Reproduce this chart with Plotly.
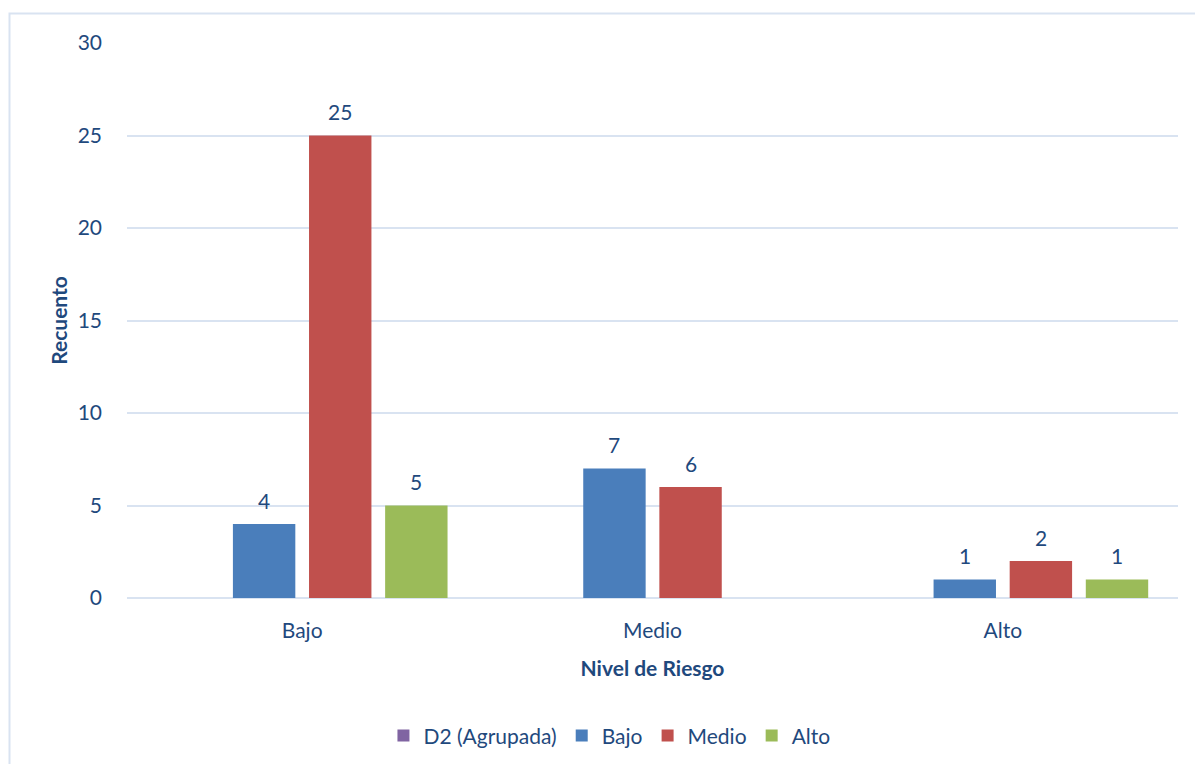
import plotly.graph_objects as go

# Nivel de Riesgo categories and counts per D2 (Agrupada) group
categorias = ["Bajo", "Medio", "Alto"]
grupo_d2 = [None, None, None]
bajo = [4, 7, 1]
medio = [25, 6, 2]
alto = [5, None, 1]

series = [
    ("D2 (Agrupada)", grupo_d2, "#8064A2"),
    ("Bajo", bajo, "#4A7EBB"),
    ("Medio", medio, "#C0504D"),
    ("Alto", alto, "#9BBB59"),
]

ink = "#1F497D"
grid = "#D9E3F1"
font_family = "Lato, Carlito, Calibri, sans-serif"
fs = 21

W, H = 1195, 764
margin = dict(l=127, r=17, t=43, b=166)
bargap = 0.131
bargroupgap = 0.18

fig = go.Figure()
for name, vals, color in series:
    fig.add_trace(go.Bar(
        name=name,
        x=categorias,
        y=vals,
        marker=dict(color=color, line=dict(width=0)),
        cliponaxis=False,
    ))

# value labels above each bar, shifted to the bar's slot within its group
plot_w = W - margin["l"] - margin["r"]
slot_px = plot_w / len(categorias) * (1 - bargap) / len(series)
for i, (name, vals, color) in enumerate(series):
    xshift = (i - (len(series) - 1) / 2) * slot_px
    for cat, v in zip(categorias, vals):
        if v is None:
            continue
        fig.add_annotation(
            x=cat, y=v, xref="x", yref="y", text=str(v), showarrow=False,
            xshift=xshift, yshift=24, yanchor="middle",
            font=dict(size=fs, color=ink, family=font_family),
        )

# light frame around the whole chart
fig.add_shape(
    type="rect", xref="paper", yref="paper",
    x0=-0.1118, x1=1.03, y0=-0.4, y1=1.0532,
    line=dict(color=grid, width=2), fillcolor="rgba(0,0,0,0)", layer="below",
)

fig.update_layout(
    width=W, height=H,
    margin=margin,
    paper_bgcolor="white", plot_bgcolor="white",
    barmode="group", bargap=bargap, bargroupgap=bargroupgap,
    font=dict(family=font_family, color=ink, size=fs),
    showlegend=True,
    legend=dict(
        orientation="h", xref="container", x=0.51, xanchor="center",
        yref="container", y=0.037, yanchor="middle",
        font=dict(size=fs, color=ink), itemsizing="constant",
        traceorder="normal", itemwidth=30,
    ),
    xaxis=dict(
        showgrid=False, showline=False, zeroline=False,
        ticks="", ticklabelstandoff=18,
        tickfont=dict(size=fs, color=ink),
        title=dict(text="<b>Nivel de Riesgo</b>", font=dict(size=fs, color=ink), standoff=20),
    ),
    yaxis=dict(
        range=[0, 30], dtick=5, showgrid=True, gridcolor=grid, gridwidth=2,
        zeroline=True, zerolinecolor=grid, zerolinewidth=2,
        showline=False, ticks="", ticklabelstandoff=24,
        tickfont=dict(size=fs, color=ink),
        title=dict(text="<b>Recuento</b>", font=dict(size=fs, color=ink), standoff=4),
    ),
)

fig.write_html("out.html")
